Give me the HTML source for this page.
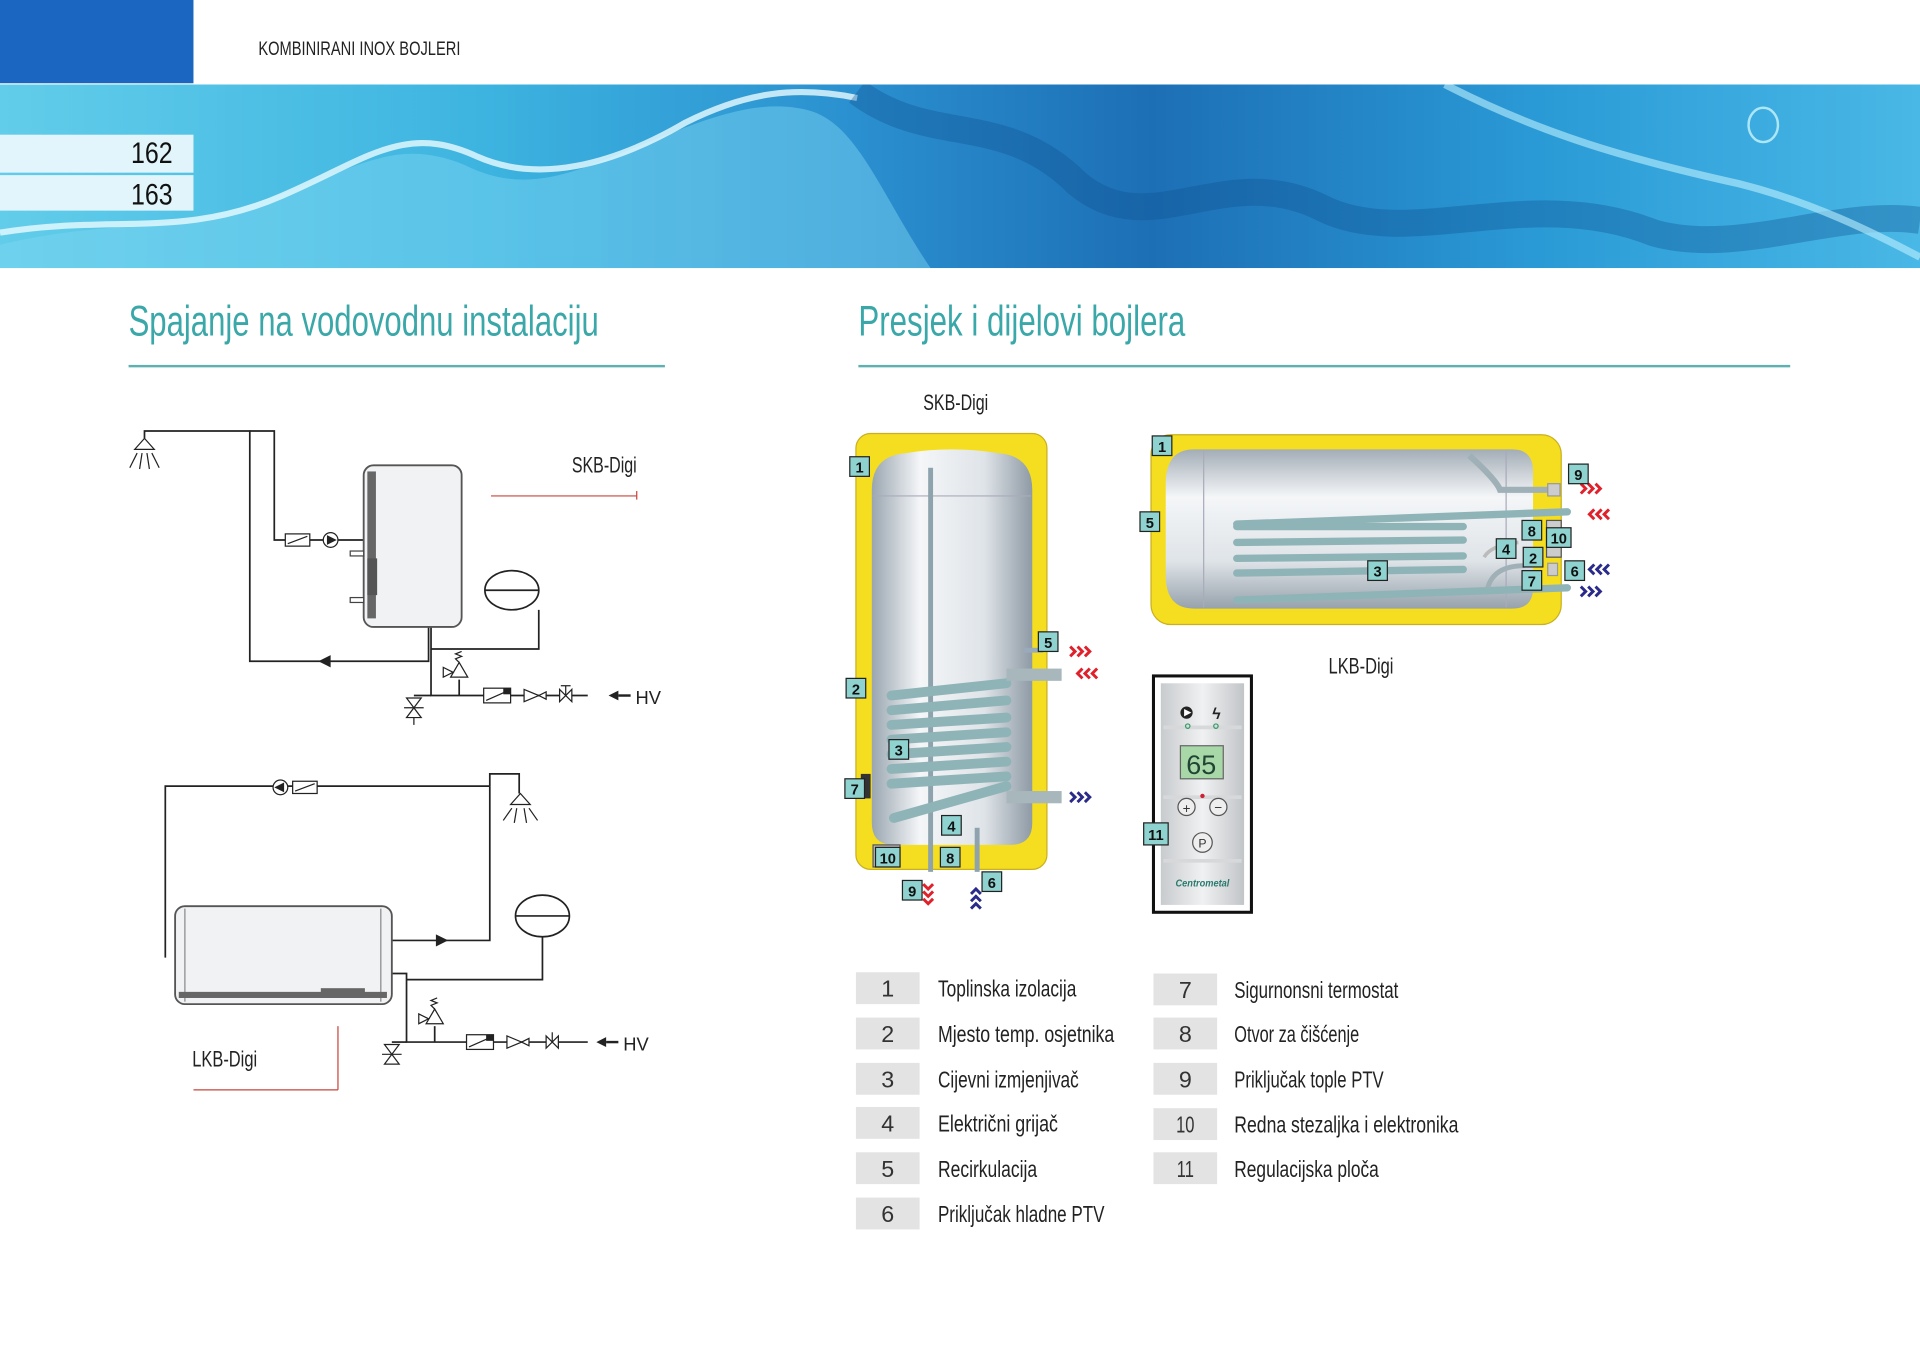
<!DOCTYPE html>
<html><head><meta charset="utf-8"><style>
html,body{margin:0;padding:0;background:#fff;width:1920px;height:1358px;overflow:hidden}
svg{display:block}
text{font-family:"Liberation Sans Narrow","Liberation Sans",sans-serif}
.lb rect{fill:#8fd3d0;stroke:#222;stroke-width:1}
.lb text{font-size:12px;font-weight:bold;fill:#111;text-anchor:middle}
.ln{stroke:#222;stroke-width:1.4;fill:none}
.lg{font-size:19px;fill:#222}
.lgn{font-size:19px;fill:#333;text-anchor:middle}
</style></head><body>
<svg width="1920" height="1358" viewBox="0 0 1568 1109" preserveAspectRatio="none" xmlns="http://www.w3.org/2000/svg">
<defs>
<linearGradient id="wat" x1="0" y1="0" x2="1" y2="0">
<stop offset="0" stop-color="#62cdea"/><stop offset="0.25" stop-color="#3db4e0"/><stop offset="0.45" stop-color="#2a8fcf"/><stop offset="0.6" stop-color="#1d6fb5"/><stop offset="0.8" stop-color="#2a9ad6"/><stop offset="1" stop-color="#49b8e6"/>
</linearGradient>
<linearGradient id="sil" x1="0" y1="0" x2="1" y2="0">
<stop offset="0" stop-color="#9aa6b0"/><stop offset="0.3" stop-color="#f4f6f8"/><stop offset="0.7" stop-color="#dfe4e8"/><stop offset="1" stop-color="#8e9aa5"/>
</linearGradient>
<linearGradient id="silv" x1="0" y1="0" x2="0" y2="1">
<stop offset="0" stop-color="#a3adb6"/><stop offset="0.3" stop-color="#f4f6f8"/><stop offset="0.7" stop-color="#dfe4e8"/><stop offset="1" stop-color="#97a2ac"/>
</linearGradient>
<linearGradient id="pan" x1="0" y1="0" x2="1" y2="0">
<stop offset="0" stop-color="#c8cbce"/><stop offset="0.5" stop-color="#f0f1f2"/><stop offset="1" stop-color="#c2c5c8"/>
</linearGradient>
<clipPath id="bc"><rect x="0" y="69" width="1568" height="150"/></clipPath>
<path id="cr" d="M0 -4 L4 0 L0 4 M6 -4 L10 0 L6 4 M12 -4 L16 0 L12 4" fill="none" stroke-width="2.4"/>
</defs>
<!-- header -->
<rect x="0" y="0" width="158" height="68" fill="#1a66c0"/>
<text x="211" y="45" font-size="16" fill="#222" textLength="165" lengthAdjust="spacingAndGlyphs">KOMBINIRANI INOX BOJLERI</text>
<!-- water banner -->
<g clip-path="url(#bc)">
<rect x="0" y="69" width="1568" height="150" fill="url(#wat)"/>
<path d="M0 200 C80 180 140 190 210 165 C290 140 320 110 380 135 C430 160 470 140 520 120 C580 95 620 80 660 90 C700 100 720 160 760 219 L0 219Z" fill="#7fd8f2" opacity="0.45"/>
<path d="M0 190 C90 175 150 195 230 160 C300 130 330 100 390 128 C440 150 500 135 560 100 C610 75 650 70 700 80" stroke="#e8fbff" stroke-width="5" fill="none" opacity="0.8"/>
<path d="M700 75 C760 120 820 90 880 150 C940 200 1000 130 1080 170 C1150 205 1250 150 1350 190 C1420 210 1500 170 1568 180" stroke="#0d4f8f" stroke-width="22" fill="none" opacity="0.35"/>
<path d="M1180 69 C1260 110 1330 130 1420 150 C1480 165 1530 190 1568 210" stroke="#bdf0ff" stroke-width="6" fill="none" opacity="0.6"/>
<ellipse cx="1440" cy="102" rx="12" ry="14" fill="none" stroke="#dff" stroke-width="2" opacity="0.7"/>
</g>
<rect x="0" y="110" width="158" height="31" fill="#eef9fd" opacity="0.92"/>
<rect x="0" y="143" width="158" height="29" fill="#eef9fd" opacity="0.92"/>
<text x="141" y="133" font-size="24" fill="#111" text-anchor="end" textLength="34" lengthAdjust="spacingAndGlyphs">162</text>
<text x="141" y="167" font-size="24" fill="#111" text-anchor="end" textLength="34" lengthAdjust="spacingAndGlyphs">163</text>
<!-- headings -->
<text x="105" y="274" font-size="35" fill="#3aa7a8" textLength="384" lengthAdjust="spacingAndGlyphs">Spajanje na vodovodnu instalaciju</text>
<rect x="105" y="298" width="438" height="2" fill="#5fb1b1"/>
<text x="701" y="274" font-size="35" fill="#3aa7a8" textLength="267" lengthAdjust="spacingAndGlyphs">Presjek i dijelovi bojlera</text>
<rect x="701" y="298" width="761" height="2" fill="#5fb1b1"/>

<!-- LEFT TOP DIAGRAM -->
<g class="ln">
<path d="M118 358 V352 H204 V540 H350 V512"/>
<path d="M204 352 H224 V441 H297"/>
<path d="M352 512 V568 H480"/>
<path d="M352 530 H440 V498"/>
<path d="M375 568 V555"/>
<path d="M338 568 H352"/>
</g>
<path d="M110 367 L118 358 L126 367Z" fill="#fff" stroke="#222"/>
<g stroke="#222" stroke-width="1"><line x1="112" y1="370" x2="106" y2="382"/><line x1="116" y1="370" x2="114" y2="383"/><line x1="120" y1="370" x2="122" y2="383"/><line x1="124" y1="370" x2="130" y2="382"/></g>
<rect x="297" y="380" width="80" height="132" rx="8" fill="#f1f2f3" stroke="#555" stroke-width="1.5"/>
<rect x="300" y="385" width="7" height="120" fill="#666"/>
<rect x="300" y="456" width="8" height="30" fill="#555"/>
<rect x="286" y="450" width="11" height="4" fill="#fff" stroke="#444"/>
<rect x="286" y="488" width="11" height="4" fill="#fff" stroke="#444"/>
<rect x="233" y="436" width="20" height="10" fill="#fff" stroke="#222"/><line x1="235" y1="444" x2="251" y2="438" stroke="#222"/>
<circle cx="270" cy="441" r="6" fill="#fff" stroke="#222"/><path d="M267 437 L275 441 L267 445Z" fill="#222"/>
<path d="M260 540 L270 535 L270 545Z" fill="#222"/>
<ellipse cx="418" cy="482" rx="22" ry="16" fill="#fff" stroke="#222" stroke-width="1.4"/><line x1="396" y1="482" x2="440" y2="482" stroke="#222" stroke-width="1.4"/>
<path d="M332 570 L344 570 L332 586 L344 586Z" fill="#fff" stroke="#222"/><line x1="338" y1="586" x2="338" y2="592" stroke="#222"/><line x1="330" y1="578" x2="346" y2="578" stroke="#222"/>
<path d="M368 553 L382 553 L375 541Z" fill="#fff" stroke="#222"/><path d="M362 545 L370 549 L362 553Z" fill="#fff" stroke="#222"/><path d="M375 541 l-3-3 l5-2 l-5-2 l5-2" stroke="#222" fill="none"/>
<rect x="395" y="562" width="22" height="12" fill="#fff" stroke="#222"/><rect x="411" y="562" width="6" height="5" fill="#222"/><line x1="397" y1="572" x2="415" y2="564" stroke="#222"/>
<path d="M428 563 L440 568 L428 573Z M440 568 L446 565 L446 571Z" fill="#fff" stroke="#222"/>
<path d="M457 563 L467 573 L467 563 L457 573Z" fill="#fff" stroke="#222"/><line x1="462" y1="568" x2="462" y2="560" stroke="#222"/><line x1="458" y1="560" x2="466" y2="560" stroke="#222"/>
<path d="M497 568 L505 564 L505 572Z" fill="#222"/><line x1="505" y1="568" x2="515" y2="568" stroke="#222" stroke-width="2"/>
<text x="519" y="575" font-size="15" fill="#222" font-family="Liberation Sans">HV</text>
<text x="467" y="386" font-size="18" fill="#222" textLength="53" lengthAdjust="spacingAndGlyphs">SKB-Digi</text>
<line x1="401" y1="405" x2="520" y2="405" stroke="#c9443a" stroke-width="1"/><line x1="520" y1="401" x2="520" y2="408" stroke="#c9443a"/>

<!-- LEFT BOTTOM DIAGRAM -->
<g class="ln">
<path d="M135 782 V642 H400"/>
<path d="M400 642 V632 H424 V648"/>
<path d="M320 768 H400 V642"/>
<path d="M320 795 H332 V851 H480"/>
<path d="M332 800 H443 V765"/>
<path d="M320 851 H332"/>
<path d="M355 851 V838"/>
</g>
<path d="M417 657 L425 648 L433 657Z" fill="#fff" stroke="#222"/>
<g stroke="#222" stroke-width="1"><line x1="418" y1="660" x2="411" y2="670"/><line x1="422" y1="660" x2="420" y2="672"/><line x1="428" y1="660" x2="430" y2="672"/><line x1="432" y1="660" x2="439" y2="670"/></g>
<circle cx="229" cy="643" r="6" fill="#fff" stroke="#222"/><path d="M232 639 L224 643 L232 647Z" fill="#222"/>
<rect x="239" y="638" width="20" height="10" fill="#fff" stroke="#222"/><line x1="241" y1="646" x2="257" y2="640" stroke="#222"/>
<rect x="143" y="740" width="177" height="80" rx="8" fill="#f1f2f3" stroke="#555" stroke-width="1.5"/>
<line x1="151" y1="742" x2="151" y2="818" stroke="#888"/><line x1="311" y1="742" x2="311" y2="818" stroke="#888"/>
<rect x="146" y="810" width="170" height="5" fill="#666"/><rect x="262" y="807" width="36" height="8" fill="#666"/>
<path d="M356 763 L366 768 L356 773Z" fill="#222"/>
<ellipse cx="443" cy="748" rx="22" ry="17" fill="#fff" stroke="#222" stroke-width="1.4"/><line x1="421" y1="748" x2="465" y2="748" stroke="#222" stroke-width="1.4"/>
<path d="M314 853 L326 853 L314 869 L326 869Z" fill="#fff" stroke="#222"/><line x1="312" y1="861" x2="328" y2="861" stroke="#222"/>
<path d="M348 836 L362 836 L355 824Z" fill="#fff" stroke="#222"/><path d="M342 828 L350 832 L342 836Z" fill="#fff" stroke="#222"/><path d="M355 824 l-3-3 l5-2 l-5-2 l5-2" stroke="#222" fill="none"/>
<rect x="381" y="845" width="22" height="12" fill="#fff" stroke="#222"/><rect x="397" y="845" width="6" height="5" fill="#222"/><line x1="383" y1="855" x2="401" y2="847" stroke="#222"/>
<path d="M414 846 L426 851 L414 856Z M426 851 L432 848 L432 854Z" fill="#fff" stroke="#222"/>
<path d="M446 846 L456 856 L456 846 L446 856Z" fill="#fff" stroke="#222"/><line x1="451" y1="851" x2="451" y2="843" stroke="#222"/>
<path d="M487 851 L495 847 L495 855Z" fill="#222"/><line x1="495" y1="851" x2="505" y2="851" stroke="#222" stroke-width="2"/>
<text x="509" y="858" font-size="15" fill="#222" font-family="Liberation Sans">HV</text>
<text x="157" y="871" font-size="18" fill="#222" textLength="53" lengthAdjust="spacingAndGlyphs">LKB-Digi</text>
<line x1="276" y1="838" x2="276" y2="890" stroke="#c9443a"/><line x1="158" y1="890" x2="276" y2="890" stroke="#c9443a"/>

<!-- RIGHT: SKB vertical tank -->
<text x="754" y="335" font-size="18" fill="#222" textLength="53" lengthAdjust="spacingAndGlyphs">SKB-Digi</text>
<rect x="699" y="354" width="156" height="356" rx="12" fill="#f5dd1f" stroke="#c9b020"/>
<path d="M712 400 Q712 372 740 370 Q777 364 815 370 Q843 372 843 400 V672 Q843 690 825 690 H730 Q712 690 712 672Z" fill="url(#sil)"/>
<line x1="713" y1="405" x2="842" y2="405" stroke="#aab"/>
<rect x="758" y="382" width="4" height="330" fill="#8ea3ad"/>
<g stroke="#8fb4b8" stroke-width="8" stroke-linecap="round" fill="none">
<path d="M728 568 L822 558"/><path d="M728 580 L822 572"/><path d="M728 592 L822 586"/><path d="M728 604 L822 598"/><path d="M728 616 L822 610"/><path d="M728 628 L822 622"/><path d="M728 640 L822 634"/><path d="M730 668 L822 642"/>
</g>
<rect x="822" y="546" width="45" height="10" fill="#a7b7bc"/>
<rect x="822" y="646" width="45" height="10" fill="#a7b7bc"/>
<rect x="836" y="529" width="16" height="4" fill="#9ab"/>
<rect x="703" y="632" width="8" height="20" fill="#333"/>
<rect x="713" y="690" width="22" height="18" fill="#bbb" stroke="#555"/>
<rect x="796" y="676" width="4" height="36" fill="#8ea3ad"/>
<use href="#cr" x="874" y="532" stroke="#e0202a"/>
<use href="#cr" transform="translate(896 550) scale(-1 1)" stroke="#e0202a"/>
<use href="#cr" x="874" y="651" stroke="#2a2a8a"/>
<use href="#cr" transform="translate(758 722) rotate(90)" stroke="#e0202a"/>
<use href="#cr" transform="translate(797 742) rotate(-90)" stroke="#2a2a8a"/>
<g class="lb">
<rect x="694" y="373" width="16" height="16"/><text x="702" y="386">1</text>
<rect x="691" y="554" width="16" height="16"/><text x="699" y="567">2</text>
<rect x="726" y="604" width="16" height="16"/><text x="734" y="617">3</text>
<rect x="769" y="666" width="16" height="16"/><text x="777" y="679">4</text>
<rect x="848" y="516" width="16" height="16"/><text x="856" y="529">5</text>
<rect x="802" y="712" width="16" height="16"/><text x="810" y="725">6</text>
<rect x="690" y="636" width="16" height="16"/><text x="698" y="649">7</text>
<rect x="768" y="692" width="16" height="16"/><text x="776" y="705">8</text>
<rect x="737" y="719" width="16" height="16"/><text x="745" y="732">9</text>
<rect x="715" y="692" width="20" height="16"/><text x="725" y="705">10</text>
</g>

<!-- RIGHT: LKB horizontal tank -->
<rect x="940" y="355" width="335" height="155" rx="16" fill="#f5dd1f" stroke="#c9b020"/>
<path d="M975 367 H1235 Q1252 367 1252 385 V480 Q1252 497 1235 497 H975 Q952 497 952 470 V395 Q952 367 975 367Z" fill="url(#silv)"/>
<line x1="983" y1="368" x2="983" y2="496" stroke="#aab"/><line x1="1230" y1="368" x2="1230" y2="496" stroke="#aab"/>
<path d="M1200 372 Q1222 392 1225 400 H1268" stroke="#9fb0b6" stroke-width="5" fill="none"/>
<rect x="1264" y="395" width="10" height="10" fill="#ccc" stroke="#999"/>
<g stroke="#8fb4b8" stroke-width="6" stroke-linecap="round" fill="none">
<path d="M1010 428 L1280 418"/><path d="M1010 430 L1195 430"/><path d="M1010 443 L1195 441"/><path d="M1010 456 L1195 454"/><path d="M1010 468 L1195 465"/><path d="M1010 490 L1280 480"/>
</g>
<rect x="1263" y="425" width="12" height="30" fill="#ccc" stroke="#555"/>
<rect x="1264" y="460" width="8" height="10" fill="#ccc" stroke="#999"/>
<path d="M1215 480 Q1220 462 1245 462" stroke="#9fb0b6" stroke-width="4" fill="none"/>
<path d="M1212 455 Q1218 445 1240 443" stroke="#bbb" stroke-width="3" fill="none"/>
<use href="#cr" x="1291" y="399" stroke="#e0202a"/>
<use href="#cr" transform="translate(1314 420) scale(-1 1)" stroke="#e0202a"/>
<use href="#cr" transform="translate(1314 465) scale(-1 1)" stroke="#2a2a8a"/>
<use href="#cr" x="1291" y="483" stroke="#2a2a8a"/>
<g class="lb">
<rect x="941" y="356" width="16" height="16"/><text x="949" y="369">1</text>
<rect x="1244" y="447" width="16" height="16"/><text x="1252" y="460">2</text>
<rect x="1117" y="458" width="16" height="16"/><text x="1125" y="471">3</text>
<rect x="1222" y="440" width="16" height="16"/><text x="1230" y="453">4</text>
<rect x="931" y="418" width="16" height="16"/><text x="939" y="431">5</text>
<rect x="1278" y="458" width="16" height="16"/><text x="1286" y="471">6</text>
<rect x="1243" y="466" width="16" height="16"/><text x="1251" y="479">7</text>
<rect x="1243" y="425" width="16" height="16"/><text x="1251" y="438">8</text>
<rect x="1281" y="379" width="16" height="16"/><text x="1289" y="392">9</text>
<rect x="1263" y="431" width="20" height="16"/><text x="1273" y="444">10</text>
</g>
<text x="1085" y="550" font-size="18" fill="#222" textLength="53" lengthAdjust="spacingAndGlyphs">LKB-Digi</text>

<!-- control panel -->
<rect x="942" y="552" width="80" height="193" fill="#fff" stroke="#111" stroke-width="2.5"/>
<rect x="948" y="558" width="68" height="181" fill="url(#pan)"/>
<line x1="950" y1="594" x2="1014" y2="594" stroke="#d6d8da" stroke-width="3"/>
<circle cx="969" cy="582" r="5" fill="#222"/><path d="M967 579 L973 582 L967 585Z" fill="#fff"/>
<text x="990" y="587" font-size="13" font-weight="bold" fill="#222">ϟ</text>
<circle cx="970" cy="593" r="1.8" fill="none" stroke="#396"/><circle cx="993" cy="593" r="1.8" fill="none" stroke="#396"/>
<rect x="964" y="609" width="35" height="27" fill="#a8d7a8" stroke="#666"/>
<text x="981" y="632" font-size="22" fill="#243" text-anchor="middle" font-family="Liberation Mono">65</text>
<line x1="950" y1="651" x2="1014" y2="651" stroke="#d6d8da" stroke-width="3"/>
<circle cx="982" cy="650" r="1.8" fill="#c23"/>
<circle cx="969" cy="659" r="7" fill="#eee" stroke="#555"/><text x="969" y="664" font-size="11" text-anchor="middle" fill="#333">+</text>
<circle cx="995" cy="659" r="7" fill="#eee" stroke="#555"/><text x="995" y="663" font-size="11" text-anchor="middle" fill="#333">−</text>
<circle cx="982" cy="688" r="8" fill="#eee" stroke="#555"/><text x="982" y="692" font-size="10" text-anchor="middle" fill="#333">P</text>
<line x1="950" y1="703" x2="1014" y2="703" stroke="#d6d8da" stroke-width="3"/>
<text x="982" y="724" font-size="8" font-style="italic" font-weight="bold" fill="#2a7a70" text-anchor="middle" textLength="44" lengthAdjust="spacingAndGlyphs">Centrometal</text>
<g class="lb"><rect x="934" y="672" width="20" height="18"/><text x="944" y="686" font-size="14">11</text></g>

<!-- legend -->
<g fill="#e3e3e3">
<rect x="699" y="794" width="52" height="26"/><rect x="699" y="831" width="52" height="26"/><rect x="699" y="868" width="52" height="26"/><rect x="699" y="904" width="52" height="26"/><rect x="699" y="941" width="52" height="26"/><rect x="699" y="978" width="52" height="26"/>
<rect x="942" y="795" width="52" height="26"/><rect x="942" y="831" width="52" height="26"/><rect x="942" y="868" width="52" height="26"/><rect x="942" y="905" width="52" height="26"/><rect x="942" y="941" width="52" height="26"/>
</g>
<g class="lgn">
<text x="725" y="814">1</text><text x="725" y="851">2</text><text x="725" y="888">3</text><text x="725" y="924">4</text><text x="725" y="961">5</text><text x="725" y="998">6</text>
<text x="968" y="815">7</text><text x="968" y="851">8</text><text x="968" y="888">9</text><text x="968" y="925" textLength="15" lengthAdjust="spacingAndGlyphs">10</text><text x="968" y="961" textLength="14" lengthAdjust="spacingAndGlyphs">11</text>
</g>
<g class="lg">
<text x="766" y="814" textLength="113" lengthAdjust="spacingAndGlyphs">Toplinska izolacija</text>
<text x="766" y="851" textLength="144" lengthAdjust="spacingAndGlyphs">Mjesto temp. osjetnika</text>
<text x="766" y="888" textLength="115" lengthAdjust="spacingAndGlyphs">Cijevni izmjenjivač</text>
<text x="766" y="924" textLength="98" lengthAdjust="spacingAndGlyphs">Električni grijač</text>
<text x="766" y="961" textLength="81" lengthAdjust="spacingAndGlyphs">Recirkulacija</text>
<text x="766" y="998" textLength="136" lengthAdjust="spacingAndGlyphs">Priključak hladne PTV</text>
<text x="1008" y="815" textLength="134" lengthAdjust="spacingAndGlyphs">Sigurnonsni termostat</text>
<text x="1008" y="851" textLength="102" lengthAdjust="spacingAndGlyphs">Otvor za čišćenje</text>
<text x="1008" y="888" textLength="122" lengthAdjust="spacingAndGlyphs">Priključak tople PTV</text>
<text x="1008" y="925" textLength="183" lengthAdjust="spacingAndGlyphs">Redna stezaljka i elektronika</text>
<text x="1008" y="961" textLength="118" lengthAdjust="spacingAndGlyphs">Regulacijska ploča</text>
</g>
</svg>
</body></html>
